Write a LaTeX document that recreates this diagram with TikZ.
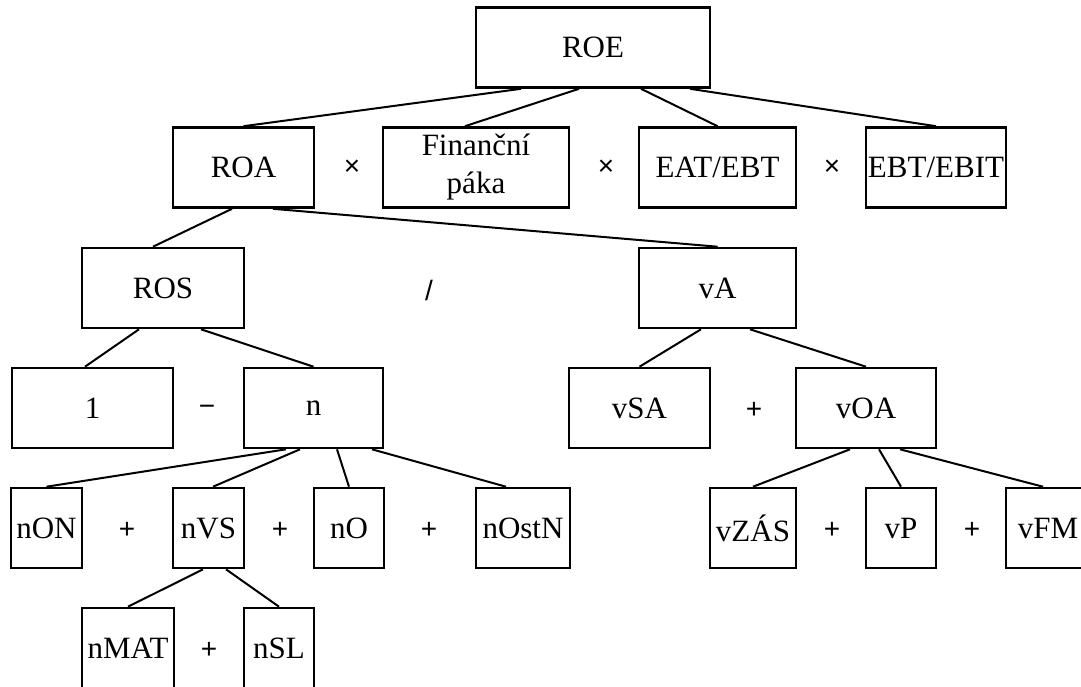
\documentclass[tikz,border=0pt]{standalone}
\usepackage{fontspec}
\setmainfont{Liberation Serif}
\newfontfamily\opfont{Liberation Sans}

\begin{document}
\begin{tikzpicture}[x=1pt, y=-1pt]
\tikzset{bloc/.style={draw, line width=2.6pt, minimum height=80pt, inner sep=0pt, font=\fontsize{31}{38}\selectfont},
         oper/.style={font=\opfont\fontsize{28}{32}\selectfont},
         lien/.style={line width=2pt}}
\useasboundingbox (0, 0) rectangle (1081, 686);
% boites
\node[bloc, minimum width=234pt] (ROE) at (593, 47.5) {ROE};
\node[bloc, minimum width=141pt] (ROA) at (243.5, 167.5) {ROA};
\node[bloc, minimum width=186pt, align=center] (FP) at (476, 167.5) {Finanční\\páka};
\node[bloc, minimum width=157pt] (EAT) at (717.5, 167.5) {EAT/EBT};
\node[bloc, minimum width=140pt] (EBIT) at (936, 167.5) {EBT/EBIT};
\node[bloc, minimum width=162pt] (ROS) at (163, 288) {ROS};
\node[bloc, minimum width=157pt] (VA) at (717.5, 288) {vA};
\node[bloc, minimum width=161pt] (JED) at (92.5, 408) {1};
\node[bloc, minimum width=139pt] (N) at (313.5, 408) {n};
\node[bloc, minimum width=141pt] (VSA) at (639.5, 408) {vSA};
\node[bloc, minimum width=140pt] (VOA) at (866, 408) {vOA};
\node[bloc, minimum width=71pt] (NON) at (46.5, 528) {nON};
\node[bloc, minimum width=71pt] (NVS) at (208.5, 528) {nVS};
\node[bloc, minimum width=70pt] (NO) at (349, 528) {nO};
\node[bloc, minimum width=94pt] (NOSTN) at (523, 528) {nOstN};
\node[bloc, minimum width=86pt] (VZAS) at (753, 528) {vZÁS};
\node[bloc, minimum width=70pt] (VP) at (901, 528) {vP};
\node[bloc, minimum width=84pt] (VFM) at (1048, 528) {vFM};
\node[bloc, minimum width=92pt] (NMAT) at (128, 648) {nMAT};
\node[bloc, minimum width=70pt] (NSL) at (279, 648) {nSL};
% operateurs
\node[oper] (X1) at (352, 167.5) {×};
\node[oper] (X2) at (606, 167.5) {×};
\node[oper] (X3) at (832, 167.5) {×};
\node[oper] (D1) at (429, 290) {/};
\node[oper] (M1) at (207, 410) {−};
\node[oper] (P1) at (754, 410) {+};
\node[oper] (P2) at (127, 530) {+};
\node[oper] (P3) at (280, 530) {+};
\node[oper] (P4) at (429, 530) {+};
\node[oper] (P5) at (832, 530) {+};
\node[oper] (P6) at (972, 530) {+};
\node[oper] (P7) at (209, 650) {+};
% liens
\draw[lien] ([xshift=-72pt]ROE.south) -- (ROA.north);
\draw[lien] ([xshift=-14pt]ROE.south) -- ([xshift=-11pt]FP.north);
\draw[lien] ([xshift=48pt]ROE.south) -- (EAT.north);
\draw[lien] ([xshift=97pt]ROE.south) -- (EBIT.north);
\draw[lien] ([xshift=-11.5pt]ROA.south) -- ([xshift=-10pt]ROS.north);
\draw[lien] ([xshift=29.5pt]ROA.south) -- (VA.north);
\draw[lien] ([xshift=-24pt]ROS.south) -- ([xshift=-7.5pt]JED.north);
\draw[lien] ([xshift=38pt]ROS.south) -- (N.north);
\draw[lien] ([xshift=-16.5pt]VA.south) -- (VSA.north);
\draw[lien] ([xshift=32.5pt]VA.south) -- (VOA.north);
\draw[lien] ([xshift=-27.5pt]N.south) -- (NON.north);
\draw[lien] ([xshift=-13.5pt]N.south) -- ([xshift=4.5pt]NVS.north);
\draw[lien] ([xshift=23.5pt]N.south) -- (NO.north);
\draw[lien] ([xshift=58.5pt]N.south) -- ([xshift=-17pt]NOSTN.north);
\draw[lien] ([xshift=-5.5pt]NVS.south) -- (NMAT.north);
\draw[lien] ([xshift=17.5pt]NVS.south) -- (NSL.north);
\draw[lien] ([xshift=-16pt]VOA.south) -- (VZAS.north);
\draw[lien] ([xshift=13pt]VOA.south) -- (VP.north);
\draw[lien] ([xshift=34pt]VOA.south) -- ([xshift=-5pt]VFM.north);
\end{tikzpicture}
\end{document}
